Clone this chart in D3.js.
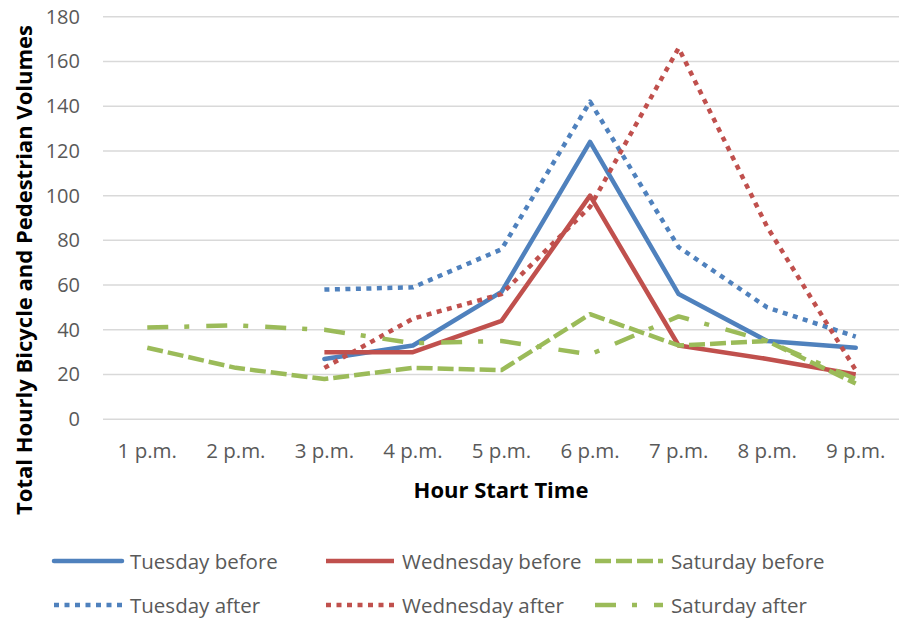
<!DOCTYPE html>
<html>
<head>
<meta charset="utf-8">
<script src="https://cdn.jsdelivr.net/npm/d3@7"></script>
<style>
  html, body { margin: 0; padding: 0; background: #fff; }
  svg { display: block; }
</style>
</head>
<body>
<svg id="chart" width="899" height="619"></svg>
<script>
// Hourly counts, 1 p.m. to 9 p.m.
const categories = ["1 p.m.", "2 p.m.", "3 p.m.", "4 p.m.", "5 p.m.", "6 p.m.", "7 p.m.", "8 p.m.", "9 p.m."];
const tuesdayBefore   = [null, null, 27, 33, 57, 124, 56, 35, 32];
const wednesdayBefore = [null, null, 30, 30, 44, 100, 33, 27, 20];
const saturdayBefore  = [32, 23, 18, 23, 22, 47, 33, 35, 16];
const tuesdayAfter    = [null, null, 58, 59, 76, 142, 77, 50, 37];
const wednesdayAfter  = [null, null, 23, 45, 56, 95, 166, 86, 22];
const saturdayAfter   = [41, 42, 40, 34, 35, 29, 46, 35, 18];
const yTicks = [0, 20, 40, 60, 80, 100, 120, 140, 160, 180];

const BLUE = "#4f81bd", RED = "#c0504d", GREEN = "#9bbb59";

const series = [
  { name: "Tuesday before",   values: tuesdayBefore,   color: BLUE,  dash: null,          cap: "round" },
  { name: "Wednesday before", values: wednesdayBefore, color: RED,   dash: null,          cap: "butt" },
  { name: "Saturday before",  values: saturdayBefore,  color: GREEN, dash: "16 5",        cap: "butt" },
  { name: "Tuesday after",    values: tuesdayAfter,    color: BLUE,  dash: "5 5.5",       cap: "butt" },
  { name: "Wednesday after",  values: wednesdayAfter,  color: RED,   dash: "5 5.5",       cap: "butt" },
  { name: "Saturday after",   values: saturdayAfter,   color: GREEN, dash: "21 16 5 17",  cap: "butt" }
];

const svg = d3.select("#chart");
const FONT = "'Open Sans', sans-serif";

const x = d3.scaleBand().domain(categories).range([103, 900]).paddingInner(0).paddingOuter(0);
const y = d3.scaleLinear().domain([0, 180]).range([419.3, 16.7]);
const cx = c => x(c) + x.bandwidth() / 2;

// horizontal gridlines
svg.append("g")
  .selectAll("line")
  .data(yTicks)
  .join("line")
  .attr("x1", 103).attr("x2", 899)
  .attr("y1", d => y(d)).attr("y2", d => y(d))
  .attr("stroke", "#d9d9d9").attr("stroke-width", 1.5);

// y axis labels
const yAxis = d3.axisLeft(y).tickValues(yTicks).tickSize(0).tickPadding(0);
const gy = svg.append("g").attr("transform", "translate(80,0)").call(yAxis);
gy.select(".domain").remove();
gy.selectAll("text")
  .attr("font-family", FONT).attr("font-size", 20).attr("fill", "#595959");

// x axis labels
const xAxis = d3.axisBottom(x).tickSize(0).tickPadding(0);
const gx = svg.append("g").attr("transform", "translate(0,443)").call(xAxis);
gx.select(".domain").remove();
gx.selectAll("text")
  .attr("font-family", FONT).attr("font-size", 20.5).attr("fill", "#595959");

// axis titles
svg.append("text")
  .attr("x", 501).attr("y", 498)
  .attr("text-anchor", "middle")
  .attr("font-family", FONT).attr("font-weight", "bold").attr("font-size", 22)
  .attr("fill", "#000")
  .text("Hour Start Time");

svg.append("text")
  .attr("transform", "translate(32,270) rotate(-90)")
  .attr("text-anchor", "middle")
  .attr("font-family", FONT).attr("font-weight", "bold").attr("font-size", 22)
  .attr("fill", "#000")
  .text("Total Hourly Bicycle and Pedestrian Volumes");

// series lines
const line = d3.line()
  .defined(d => d.v !== null)
  .x(d => cx(d.c))
  .y(d => y(d.v));

svg.append("g")
  .selectAll("path")
  .data(series)
  .join("path")
  .attr("d", s => line(s.values.map((v, i) => ({ c: categories[i], v }))))
  .attr("fill", "none")
  .attr("stroke", s => s.color)
  .attr("stroke-width", 4.5)
  .attr("stroke-linejoin", "round")
  .attr("stroke-linecap", s => s.cap)
  .attr("stroke-dasharray", s => s.dash);

// legend: two rows of three
const legendCols = [54, 326, 595];
const legendRows = [561, 605];
const legend = svg.append("g")
  .selectAll("g")
  .data(series)
  .join("g")
  .attr("transform", (s, i) => `translate(${legendCols[i % 3]},${legendRows[Math.floor(i / 3)]})`);

legend.append("line")
  .attr("x1", 0).attr("x2", 68).attr("y1", 0).attr("y2", 0)
  .attr("stroke", s => s.color)
  .attr("stroke-width", 4.5)
  .attr("stroke-linecap", s => s.cap)
  .attr("stroke-dasharray", s => s.dash);

legend.append("text")
  .attr("x", 76).attr("y", 7.5)
  .attr("font-family", FONT).attr("font-size", 20.5).attr("fill", "#595959")
  .text(s => s.name);
</script>
</body>
</html>
